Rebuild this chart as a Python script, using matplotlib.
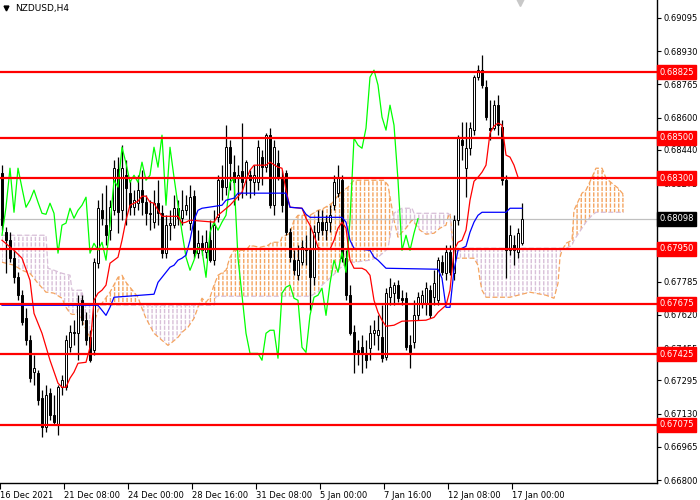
import matplotlib
matplotlib.use('Agg')
import matplotlib.pyplot as plt
import numpy as np

plt.rcParams['hatch.linewidth'] = 1.0

chart_title = 'NZDUSD,H4'

opens = [0.68324, 0.68031, 0.67991, 0.67902, 0.67807, 0.67718, 0.67603, 0.67494, 0.67336, 0.67331,
         0.67206, 0.67062, 0.67231, 0.67122, 0.67072, 0.67261, 0.67261, 0.67459, 0.67534, 0.67529,
         0.67693, 0.67594, 0.67509, 0.67444, 0.67877, 0.68140, 0.68066, 0.68041, 0.68140, 0.68344,
         0.68140, 0.68314, 0.68225, 0.68155, 0.68175, 0.68240, 0.68180, 0.68125, 0.68081, 0.68175,
         0.68125, 0.67927, 0.68066, 0.68066, 0.68150, 0.68100, 0.68140, 0.68076, 0.68210, 0.67927,
         0.67976, 0.67932, 0.67991, 0.67892, 0.68105, 0.68289, 0.68255, 0.68453, 0.68329, 0.68299,
         0.68334, 0.68304, 0.68314, 0.68279, 0.68279, 0.68404, 0.68354, 0.68513, 0.68165, 0.68374,
         0.68304, 0.68324, 0.68031, 0.67892, 0.67817, 0.67882, 0.67951, 0.67951, 0.67807, 0.68031,
         0.68081, 0.68041, 0.68081, 0.68165, 0.68225, 0.68289, 0.67902, 0.67718, 0.67534, 0.67444,
         0.67459, 0.67429, 0.67454, 0.67529, 0.67519, 0.67509, 0.67409, 0.67708, 0.67728, 0.67768,
         0.67703, 0.67703, 0.67469, 0.67484, 0.67618, 0.67678, 0.67678, 0.67743, 0.67708, 0.67693,
         0.67882, 0.67827, 0.67932, 0.67827, 0.68091, 0.68488, 0.68349, 0.68448, 0.68538, 0.68801,
         0.68836, 0.68752, 0.68548, 0.68548, 0.68662, 0.68553, 0.68289, 0.67941, 0.67966, 0.67932,
         0.67976]
highs = [0.68364, 0.68056, 0.68031, 0.67941, 0.67832, 0.67743, 0.67653, 0.67519, 0.67419, 0.67345,
         0.67246, 0.67271, 0.67256, 0.67221, 0.67271, 0.67321, 0.67519, 0.67569, 0.67594, 0.67718,
         0.67718, 0.67633, 0.67544, 0.67902, 0.68190, 0.68225, 0.68265, 0.68190, 0.68389, 0.68404,
         0.68463, 0.68389, 0.68289, 0.68240, 0.68314, 0.68339, 0.68215, 0.68190, 0.68240, 0.68289,
         0.68165, 0.68115, 0.68140, 0.68215, 0.68190, 0.68240, 0.68215, 0.68265, 0.68240, 0.68041,
         0.68016, 0.68041, 0.68091, 0.68140, 0.68314, 0.68364, 0.68563, 0.68488, 0.68414, 0.68364,
         0.68573, 0.68389, 0.68339, 0.68364, 0.68488, 0.68439, 0.68523, 0.68548, 0.68488, 0.68439,
         0.68339, 0.68339, 0.68051, 0.67941, 0.67966, 0.67991, 0.68016, 0.68066, 0.68066, 0.68140,
         0.68140, 0.68115, 0.68165, 0.68314, 0.68364, 0.68314, 0.67941, 0.67768, 0.67569, 0.67494,
         0.67519, 0.67494, 0.67569, 0.67594, 0.67618, 0.67668, 0.67753, 0.67802, 0.67782, 0.67792,
         0.67743, 0.67733, 0.67519, 0.67693, 0.67733, 0.67743, 0.67782, 0.67768, 0.67842, 0.67907,
         0.67917, 0.67966, 0.67966, 0.68115, 0.68513, 0.68578, 0.68578, 0.68578, 0.68811, 0.68861,
         0.68911, 0.68786, 0.68687, 0.68687, 0.68712, 0.68588, 0.68314, 0.68066, 0.68016, 0.68051,
         0.68175]
lows = [0.68041, 0.67827, 0.67882, 0.67777, 0.67693, 0.67569, 0.67469, 0.67286, 0.67271, 0.67171,
        0.67012, 0.67037, 0.67097, 0.67072, 0.67022, 0.67221, 0.67246, 0.67434, 0.67469, 0.67395,
        0.67569, 0.67469, 0.67385, 0.67419, 0.67852, 0.68066, 0.67966, 0.67991, 0.68115, 0.68026,
        0.68091, 0.68066, 0.68115, 0.68115, 0.68140, 0.68115, 0.68066, 0.68041, 0.68051, 0.68066,
        0.67902, 0.67902, 0.67991, 0.68051, 0.68066, 0.68066, 0.68115, 0.68041, 0.67902, 0.67902,
        0.67917, 0.67902, 0.67882, 0.67867, 0.68081, 0.68190, 0.68215, 0.68240, 0.68165, 0.68190,
        0.68200, 0.68215, 0.68200, 0.68215, 0.68240, 0.68265, 0.68329, 0.68150, 0.68115, 0.68289,
        0.68130, 0.68016, 0.67882, 0.67817, 0.67792, 0.67867, 0.67867, 0.67643, 0.67768, 0.67991,
        0.68016, 0.67991, 0.68031, 0.68140, 0.68205, 0.67882, 0.67693, 0.67519, 0.67331, 0.67370,
        0.67331, 0.67355, 0.67395, 0.67469, 0.67444, 0.67385, 0.67395, 0.67668, 0.67668, 0.67683,
        0.67668, 0.67444, 0.67355, 0.67454, 0.67594, 0.67653, 0.67618, 0.67603, 0.67668, 0.67668,
        0.67817, 0.67792, 0.67817, 0.67792, 0.68066, 0.68389, 0.68205, 0.68414, 0.68513, 0.68786,
        0.68747, 0.68588, 0.68488, 0.68538, 0.68513, 0.68265, 0.67802, 0.67917, 0.67867, 0.67902,
        0.67966]
closes = [0.68066, 0.67991, 0.67902, 0.67807, 0.67718, 0.67584, 0.67494, 0.67306, 0.67355, 0.67196,
          0.67062, 0.67221, 0.67122, 0.67087, 0.67261, 0.67296, 0.67494, 0.67534, 0.67529, 0.67668,
          0.67594, 0.67494, 0.67395, 0.67882, 0.68150, 0.68100, 0.68016, 0.68155, 0.68349, 0.68130,
          0.68349, 0.68250, 0.68155, 0.68190, 0.68240, 0.68180, 0.68125, 0.68120, 0.68175, 0.68125,
          0.67927, 0.68066, 0.68076, 0.68150, 0.68100, 0.68140, 0.68165, 0.68205, 0.67927, 0.67976,
          0.67941, 0.67981, 0.67892, 0.68066, 0.68289, 0.68255, 0.68453, 0.68374, 0.68279, 0.68314,
          0.68279, 0.68379, 0.68289, 0.68314, 0.68453, 0.68354, 0.68513, 0.68165, 0.68453, 0.68304,
          0.68165, 0.68031, 0.67907, 0.67842, 0.67892, 0.67956, 0.67941, 0.67807, 0.68031, 0.68081,
          0.68041, 0.68081, 0.68115, 0.68279, 0.68299, 0.67902, 0.67718, 0.67529, 0.67429, 0.67429,
          0.67429, 0.67395, 0.67529, 0.67544, 0.67544, 0.67405, 0.67728, 0.67758, 0.67768, 0.67703,
          0.67693, 0.67459, 0.67434, 0.67618, 0.67708, 0.67718, 0.67753, 0.67618, 0.67777, 0.67892,
          0.67832, 0.67932, 0.67832, 0.68091, 0.68498, 0.68463, 0.68448, 0.68548, 0.68801, 0.68836,
          0.68762, 0.68603, 0.68538, 0.68662, 0.68563, 0.68289, 0.67941, 0.68016, 0.67941, 0.68026,
          0.68098]

chikou_shift = 26

tenkan_bar = [0, 3, 5, 7, 8, 10, 12, 14, 15, 16, 17, 18, 19, 21, 22, 23, 24, 25, 26, 27,
              28, 29, 30, 31, 32, 33, 34, 35, 36, 37, 38, 39, 40, 44, 45, 46, 47, 53, 54, 57,
              60, 61, 62, 63, 66, 67, 69, 70, 71, 72, 75, 76, 77, 78, 79, 80, 82, 83, 84, 85,
              86, 87, 88, 90, 91, 92, 93, 94, 95, 96, 98, 100, 106, 108, 109, 111, 112, 113, 114, 115,
              116, 117, 118, 119, 120, 121, 122, 123, 124, 125, 126, 127, 128, 129]
tenkan_val = [0.67991, 0.67941, 0.67902, 0.67792, 0.67628, 0.67529, 0.67395, 0.67281, 0.67261, 0.67261,
              0.67306, 0.67336, 0.67380, 0.67385, 0.67459, 0.67693, 0.67728, 0.67743, 0.67768, 0.67877,
              0.67892, 0.67907, 0.67991, 0.68091, 0.68165, 0.68175, 0.68185, 0.68210, 0.68210, 0.68180,
              0.68175, 0.68140, 0.68110, 0.68110, 0.68076, 0.68081, 0.68091, 0.68081, 0.68115, 0.68165,
              0.68230, 0.68289, 0.68339, 0.68364, 0.68364, 0.68379, 0.68354, 0.68349, 0.68240, 0.68155,
              0.68150, 0.68100, 0.68066, 0.68016, 0.67956, 0.67946, 0.67946, 0.67991, 0.68051, 0.68081,
              0.68051, 0.67892, 0.67852, 0.67852, 0.67842, 0.67817, 0.67693, 0.67633, 0.67594, 0.67564,
              0.67569, 0.67589, 0.67594, 0.67608, 0.67633, 0.67668, 0.67743, 0.67941, 0.67981, 0.67991,
              0.68041, 0.68190, 0.68284, 0.68304, 0.68329, 0.68364, 0.68523, 0.68558, 0.68573, 0.68563,
              0.68414, 0.68404, 0.68364, 0.68304]

kijun_bar = [0, 24, 25, 26, 27, 28, 38, 39, 40, 41, 42, 43, 44, 45, 46, 47, 48, 49, 50, 55,
             56, 58, 59, 71, 72, 75, 76, 77, 85, 86, 87, 88, 92, 93, 94, 95, 96, 109, 110, 111,
             112, 113, 114, 116, 117, 118, 119, 120, 126, 127, 130]
kijun_val = [0.67668, 0.67668, 0.67643, 0.67618, 0.67658, 0.67708, 0.67723, 0.67782, 0.67807, 0.67832,
             0.67857, 0.67867, 0.67892, 0.67902, 0.67917, 0.67991, 0.68091, 0.68140, 0.68150, 0.68165,
             0.68190, 0.68200, 0.68225, 0.68225, 0.68155, 0.68150, 0.68120, 0.68105, 0.68105, 0.68081,
             0.67991, 0.67951, 0.67941, 0.67907, 0.67892, 0.67872, 0.67852, 0.67847, 0.67802, 0.67658,
             0.67658, 0.67842, 0.67941, 0.67961, 0.68031, 0.68081, 0.68115, 0.68130, 0.68130, 0.68150,
             0.68150]

cloud_bar = [0, 3, 5, 7, 9, 11, 11.5, 13, 15, 16, 17, 17.5, 19, 20, 20.5, 22, 23, 24, 25, 27,
             29, 30, 31, 33, 34, 35, 36, 38, 40, 41.5, 42.5, 44, 45, 46.5, 48, 49, 50, 51, 52, 53,
             53.5, 54, 56, 57, 58, 61, 62, 64.5, 66.5, 67.5, 69.5, 70, 72, 73, 74, 77, 79, 80, 82.5, 84.5,
             86.5, 88, 92, 94, 95.5, 96.5, 97.5, 98, 99, 100, 101, 102.5, 103, 104.5, 106, 108, 109.5, 111, 111.5, 112,
             112.5, 113, 118, 119, 119.5, 120, 121, 127, 129, 132, 136, 138, 139, 139.5, 140, 141, 142.5, 143, 145, 146,
             147.5, 148.5, 150, 151, 152.5, 154, 155.5]
span_a = [0.67882, 0.67867, 0.67842, 0.67827, 0.67777, 0.67733, 0.67733, 0.67728, 0.67703, 0.67658,
          0.67628, 0.67623, 0.67623, 0.67594, 0.67569, 0.67509, 0.67579, 0.67643, 0.67678, 0.67733,
          0.67807, 0.67817, 0.67782, 0.67733, 0.67708, 0.67653, 0.67603, 0.67529, 0.67494, 0.67469,
          0.67484, 0.67509, 0.67534, 0.67559, 0.67603, 0.67658, 0.67703, 0.67683, 0.67708, 0.67768,
          0.67792, 0.67817, 0.67842, 0.67907, 0.67941, 0.67941, 0.67966, 0.67956, 0.67966, 0.67981,
          0.67981, 0.68006, 0.68026, 0.68091, 0.68115, 0.68115, 0.68140, 0.68145, 0.68175, 0.68225,
          0.68255, 0.68289, 0.68289, 0.68289, 0.68289, 0.68265, 0.68150, 0.68091, 0.68006, 0.68031,
          0.68051, 0.68091, 0.68081, 0.68041, 0.68021, 0.68026, 0.68051, 0.68066, 0.68105, 0.68125,
          0.68026, 0.67902, 0.67902, 0.67867, 0.67792, 0.67743, 0.67708, 0.67708, 0.67718, 0.67733,
          0.67718, 0.67703, 0.67777, 0.67907, 0.67941, 0.67976, 0.67991, 0.68140, 0.68225, 0.68240,
          0.68304, 0.68349, 0.68349, 0.68299, 0.68274, 0.68250, 0.68215]
span_b = [0.68016, 0.68016, 0.68016, 0.68016, 0.68016, 0.68016, 0.67852, 0.67842, 0.67827, 0.67822,
          0.67817, 0.67743, 0.67743, 0.67743, 0.67668, 0.67668, 0.67668, 0.67668, 0.67668, 0.67668,
          0.67668, 0.67668, 0.67668, 0.67668, 0.67668, 0.67668, 0.67668, 0.67668, 0.67668, 0.67668,
          0.67668, 0.67668, 0.67668, 0.67668, 0.67668, 0.67668, 0.67668, 0.67668, 0.67668, 0.67668,
          0.67713, 0.67713, 0.67713, 0.67713, 0.67713, 0.67713, 0.67713, 0.67713, 0.67713, 0.67713,
          0.67713, 0.67713, 0.67713, 0.67713, 0.67713, 0.67713, 0.67733, 0.67768, 0.67812, 0.67852,
          0.67882, 0.67882, 0.67892, 0.67907, 0.67932, 0.67951, 0.68066, 0.68125, 0.68140, 0.68150,
          0.68150, 0.68150, 0.68125, 0.68125, 0.68125, 0.68125, 0.68125, 0.68125, 0.68125, 0.68115,
          0.67991, 0.67951, 0.67951, 0.67951, 0.67951, 0.67951, 0.67951, 0.67951, 0.67951, 0.67951,
          0.67951, 0.67951, 0.67951, 0.67951, 0.67951, 0.67951, 0.67966, 0.67991, 0.68051, 0.68081,
          0.68115, 0.68130, 0.68130, 0.68130, 0.68130, 0.68130, 0.68130]

levels = [0.68825, 0.68500, 0.68300, 0.67950, 0.67675, 0.67425, 0.67075]
current_price = 0.68098

ytick_vals = [0.66800, 0.66965, 0.67130, 0.67295, 0.67455, 0.67620, 0.67785, 0.67950,
              0.68110, 0.68275, 0.68440, 0.68600, 0.68765, 0.68930, 0.69095]
# tick labels fully hidden behind the price boxes in the reference
ytick_hidden = [0.67950, 0.68110]
xtick_bar = [-0.5, 15.5, 31.5, 47.5, 63.5, 79.5, 95.5, 111.5, 127.5]
xtick_labels = ['16 Dec 2021', '21 Dec 08:00', '24 Dec 00:00', '28 Dec 16:00', '31 Dec 08:00',
                '5 Jan 00:00', '7 Jan 16:00', '12 Jan 08:00', '17 Jan 00:00']

ORANGE = '#F4A460'
THISTLE = '#D8BFD8'

fig = plt.figure(figsize=(7, 5), dpi=100)
ax = fig.add_axes([0, 17 / 500, 657 / 700, 483 / 500])
ax.set_xlim(-0.5, 163.75)
ax.set_ylim(0.667853, 0.691844)

# cloud
cb = np.array(cloud_bar)
sa = np.array(span_a)
sb = np.array(span_b)
ax.fill_between(cb, sa, sb, where=sa >= sb, interpolate=True, facecolor='none',
                edgecolor=ORANGE, hatch='||||', linewidth=0, zorder=1)
ax.fill_between(cb, sa, sb, where=sa < sb, interpolate=True, facecolor='none',
                edgecolor=THISTLE, hatch='||||', linewidth=0, zorder=1)
ax.fill_between(cb, sa, sb, facecolor='none', edgecolor='white', hatch='---',
                linewidth=0, zorder=1.1)
ax.plot(cb, sa, color=ORANGE, lw=0.9, ls=(0, (4, 2)), zorder=1.2)
ax.plot(cb, sb, color=THISTLE, lw=0.9, ls=(0, (4, 2)), zorder=1.2)

# current price line
ax.axhline(current_price, color='#C0C0C0', lw=0.9, zorder=1.3)

# candles
idx = np.arange(len(closes))
o = np.array(opens); h = np.array(highs); l = np.array(lows); c = np.array(closes)
ax.vlines(idx, l, h, color='black', lw=0.9, zorder=3)
faces = ['white' if cc >= oo else 'black' for oo, cc in zip(o, c)]
ax.bar(idx, np.maximum(np.abs(c - o), 0.00002), bottom=np.minimum(o, c), width=0.6,
       color=faces, edgecolor='black', linewidth=0.7, zorder=3.1)

# indicators
ax.plot(idx[chikou_shift:] - chikou_shift, c[chikou_shift:], color='#00FF00', lw=0.9, zorder=4)
ax.plot(tenkan_bar, tenkan_val, color='#FF0000', lw=0.9, zorder=4.1)
ax.plot(kijun_bar, kijun_val, color='#0000FF', lw=0.9, zorder=4.1)

# levels
for lv in levels:
    ax.axhline(lv, color='#FF0000', lw=1.6, zorder=5)

# axes styling
for s in ['top', 'left']:
    ax.spines[s].set_visible(False)
for s in ['right', 'bottom']:
    ax.spines[s].set_color('black')
    ax.spines[s].set_linewidth(1.0)
ax.yaxis.tick_right()
ax.set_yticks(ytick_vals)
ax.set_yticklabels(['' if v in ytick_hidden else f'{v:.5f}' for v in ytick_vals])
ax.tick_params(axis='y', direction='out', length=3, width=0.8, pad=2, labelsize=6)
ax.set_xticks(xtick_bar)
ax.set_xticklabels(xtick_labels, ha='left')
ax.tick_params(axis='x', direction='out', length=4, width=0.8, pad=1.5, labelsize=6)

# right labels
for lv in levels:
    ax.text(1.0035, lv, f'{lv:.5f}', transform=ax.get_yaxis_transform(), fontsize=6,
            color='white', va='center', ha='left', zorder=10, clip_on=False,
            bbox=dict(boxstyle='square,pad=0.3', fc='#FF0000', ec='#FF0000'))
ax.text(1.0035, current_price, f'{current_price:.5f}', transform=ax.get_yaxis_transform(),
        fontsize=6, color='white', va='center', ha='left', zorder=10, clip_on=False,
        bbox=dict(boxstyle='square,pad=0.3', fc='black', ec='black'))

# chart shift marker and title
ax.plot([520 / 657], [1 - 2 / 483], marker='v', color='#C8C8C8', markersize=6,
        transform=ax.transAxes, clip_on=False, zorder=10)
ax.plot([6 / 657], [1 - 8 / 483], marker='v', color='black', markersize=3.5,
        transform=ax.transAxes, clip_on=False, zorder=10)
fig.text(15 / 700, 1 - 8 / 500, chart_title, fontsize=6.5, va='center', ha='left', color='black')

fig.savefig('out.png', dpi=100)
